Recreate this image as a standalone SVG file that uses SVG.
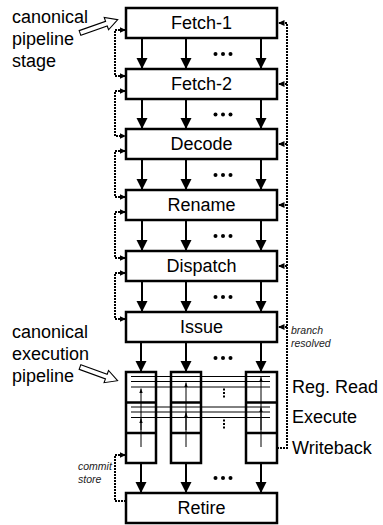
<svg xmlns="http://www.w3.org/2000/svg" width="383" height="525" viewBox="0 0 383 525">
<style>
.box{fill:#fff;stroke:#000;stroke-width:2.5}
.lbl{font-family:"Liberation Sans",Arial,sans-serif;font-size:18px;fill:#000}
.st{text-anchor:middle}
.note{font-family:"Liberation Sans",Arial,sans-serif;font-size:10.5px;font-style:italic;fill:#222}
.flow{stroke:#000;stroke-width:2;fill:none}
.thin{stroke:#000;stroke-width:1;fill:none}
.dot{stroke:#000;stroke-width:2;fill:none;stroke-dasharray:2 1}
.hollow{fill:#fff;stroke:#000;stroke-width:1.1}
</style>
<defs>
<marker id="big" markerUnits="userSpaceOnUse" markerWidth="12" markerHeight="12" viewBox="0 0 12 12" refX="11" refY="6" orient="auto"><path d="M0,0.5 L11,6 L0,11.5 Z" fill="#000"/></marker>
<marker id="sm" markerUnits="userSpaceOnUse" markerWidth="7" markerHeight="7" viewBox="0 0 7 7" refX="6.5" refY="3.5" orient="auto-start-reverse"><path d="M0,0.5 L6.5,3.5 L0,6.5 Z" fill="#000"/></marker>
<marker id="tiny" markerUnits="userSpaceOnUse" markerWidth="5" markerHeight="5" viewBox="0 0 5 5" refX="4.5" refY="2.5" orient="auto"><path d="M0,0.8 L4.5,2.5 L0,4.2 Z" fill="#000"/></marker>
<g id="dots3"><circle cx="-7.5" cy="0" r="2"/><circle cx="0" cy="0" r="2"/><circle cx="7.5" cy="0" r="2"/></g>
<g id="vdots"><rect x="-1" y="-4.5" width="2" height="2"/><rect x="-1" y="-1" width="2" height="2"/><rect x="-1" y="2.5" width="2" height="2"/></g>
</defs>

<g id="connectors">
<g class="flow" marker-end="url(#big)">
<path d="M142,39 V69"/><path d="M186,39 V69"/><path d="M261,39 V69"/>
<path d="M142,99 V129"/><path d="M186,99 V129"/><path d="M261,99 V129"/>
<path d="M142,159 V190"/><path d="M186,159 V190"/><path d="M261,159 V190"/>
<path d="M142,220 V251"/><path d="M186,220 V251"/><path d="M261,220 V251"/>
<path d="M142,281 V312"/><path d="M186,281 V312"/><path d="M261,281 V312"/>
<path d="M141,342 V372"/><path d="M186,342 V372"/><path d="M261,342 V372"/>
<path d="M141,463 V493"/><path d="M186,463 V493"/><path d="M261,463 V493"/>
</g>
<use href="#dots3" x="223" y="54"/>
<use href="#dots3" x="223" y="114.5"/>
<use href="#dots3" x="223" y="175"/>
<use href="#dots3" x="223" y="236"/>
<use href="#dots3" x="223" y="297"/>
<use href="#dots3" x="223" y="358"/>
<use href="#dots3" x="223" y="478"/>
<g class="dot" marker-start="url(#sm)" marker-end="url(#sm)">
<path d="M126,30 H115 V76 H126"/>
<path d="M126,91 H115 V136 H126"/>
<path d="M126,151 H115 V197 H126"/>
<path d="M126,212 H115 V258 H126"/>
<path d="M126,273 H115 V319 H126"/>
</g>
<path class="dot" d="M126,501 H115 V455 H126" marker-end="url(#sm)"/>
<path class="dot" d="M277,448 H287 V23 H278" marker-end="url(#sm)"/>
<g class="dot" marker-end="url(#sm)">
<path d="M287,84 H278"/>
<path d="M287,144 H278"/>
<path d="M287,205 H278"/>
<path d="M287,266 H278"/>
<path d="M287,327 H278"/>
</g>
</g>

<g id="fetch1"><rect class="box" x="126" y="8" width="151" height="30"/><text class="lbl st" x="201.5" y="29">Fetch-1</text></g>
<g id="fetch2"><rect class="box" x="126" y="69" width="151" height="30"/><text class="lbl st" x="201.5" y="90">Fetch-2</text></g>
<g id="decode"><rect class="box" x="126" y="129" width="151" height="30"/><text class="lbl st" x="201.5" y="150">Decode</text></g>
<g id="rename"><rect class="box" x="126" y="190" width="151" height="30"/><text class="lbl st" x="201.5" y="211">Rename</text></g>
<g id="dispatch"><rect class="box" x="126" y="251" width="151" height="30"/><text class="lbl st" x="201.5" y="272">Dispatch</text></g>
<g id="issue"><rect class="box" x="126" y="312" width="151" height="30"/><text class="lbl st" x="201.5" y="333">Issue</text></g>
<g id="retire"><rect class="box" x="126" y="493" width="151" height="30"/><text class="lbl st" x="201.5" y="514">Retire</text></g>

<g id="exec-pipelines">
<g id="col1"><rect class="box" x="126" y="372" width="30" height="91"/><path class="box" d="M126,402.5 H156 M126,433 H156"/></g>
<g id="col2"><rect class="box" x="171" y="372" width="30" height="91"/><path class="box" d="M171,402.5 H201 M171,433 H201"/></g>
<g id="col3"><rect class="box" x="246" y="372" width="31" height="91"/><path class="box" d="M246,402.5 H277 M246,433 H277"/></g>
<path class="thin" d="M131,376.5 H270 M131,381.5 H270 M131,387 H270 M131,407 H270 M131,412 H270 M131,417.5 H270"/>
<g class="thin" marker-end="url(#tiny)">
<path d="M141,447 V388.5"/><path d="M141,430 V418.5"/>
<path d="M186,447 V382.5"/><path d="M186,430 V412.5"/>
<path d="M261,447 V377"/><path d="M261,430 V407.5"/>
</g>
<use href="#vdots" x="224" y="393"/>
<use href="#vdots" x="224" y="424"/>
</g>

<g id="labels">
<text class="lbl" x="12" y="23">canonical</text>
<text class="lbl" x="12" y="45">pipeline</text>
<text class="lbl" x="12" y="67">stage</text>
<polygon class="hollow" transform="translate(80,33) rotate(-19.5)" points="0,-2.5 28,-2.5 28,-6.5 40,0 28,6.5 28,2.5 0,2.5"/>
<text class="lbl" x="12" y="338">canonical</text>
<text class="lbl" x="12" y="360">execution</text>
<text class="lbl" x="12" y="382">pipeline</text>
<polygon class="hollow" transform="translate(80,367) rotate(20)" points="0,-2.5 28,-2.5 28,-6.5 40,0 28,6.5 28,2.5 0,2.5"/>
<text class="lbl" x="292" y="393">Reg. Read</text>
<text class="lbl" x="292" y="423">Execute</text>
<text class="lbl" x="292" y="454">Writeback</text>
<text class="note" x="291" y="334">branch</text>
<text class="note" x="291" y="347">resolved</text>
<text class="note" x="78" y="470">commit</text>
<text class="note" x="78" y="483">store</text>
</g>
</svg>
